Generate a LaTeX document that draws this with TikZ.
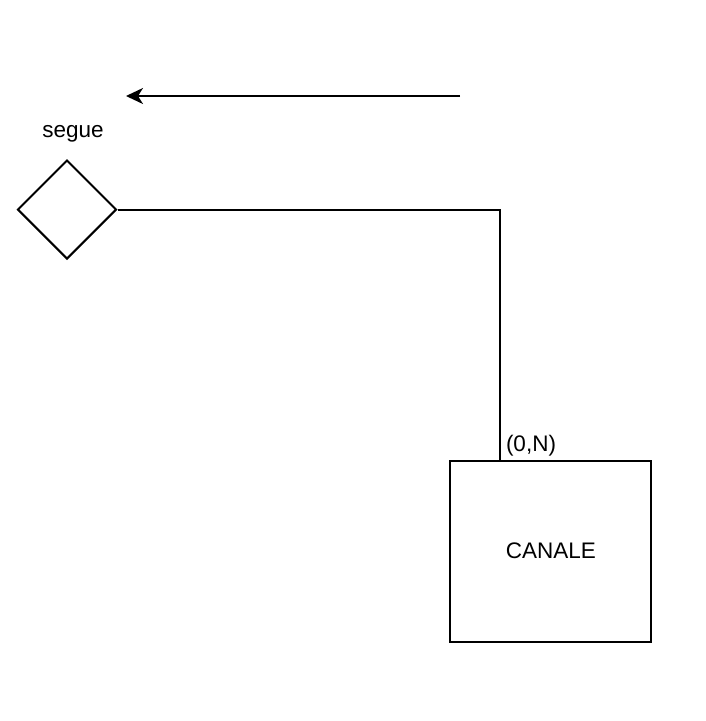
\documentclass[tikz,border=0pt]{standalone}
\usepackage{fontspec}
\setmainfont{Liberation Sans}
\usetikzlibrary{shapes.geometric,arrows.meta}
\tikzset{
    entita/.style={draw, rectangle, minimum width=201pt, minimum height=181pt, inner sep=0pt, line width=2pt},
    relazione/.style={draw, diamond, minimum width=99pt, minimum height=99pt, inner sep=0pt, line width=2pt},
    etichetta/.style={inner sep=0pt, font=\fontsize{22.5}{27}\selectfont},
}
\begin{document}
\begin{tikzpicture}[x=1pt, y=-1pt, line width=2pt]
            \useasboundingbox (0,0) rectangle (706,721);
            \node [relazione] (segue) at (67,209.5) {};
            \node [etichetta, anchor=base] (segueLab) at (73,137) {segue};
            \node [entita, font=\fontsize{22.5}{27}\selectfont] (canale) at (550.8,551) {CANALE};
            \coordinate (knee) at (500,460.7);
            \node [etichetta, anchor=base west] (card) at (505,451.5) {(0,N)};
            \draw [] (segue.east) -| (knee);
            \coordinate (freccia1) at (460,96);
            \coordinate (freccia2) at (126,96);
            \draw [-{Stealth[length=17pt,width=16pt,inset=5pt]}] (freccia1) -- (freccia2);
        \end{tikzpicture}
\end{document}
